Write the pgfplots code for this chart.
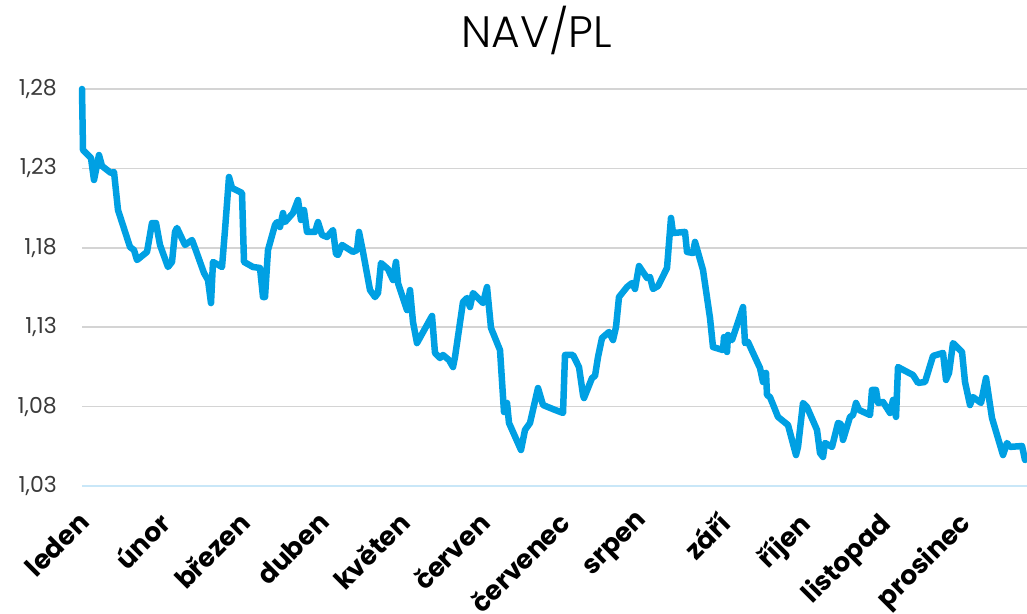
\documentclass[border=0pt]{standalone}
\usepackage{fontspec}
\setmainfont{Poppins}[UprightFont=* Light, BoldFont=* Bold]
\newfontfamily\popbold{Poppins Bold}
\newfontfamily\popreg{Poppins}
\usepackage{pgfplots}
\pgfplotsset{compat=1.18}
\definecolor{navblue}{HTML}{00A0E3}
\definecolor{gridgray}{HTML}{D4D4D4}
\definecolor{baseblue}{HTML}{C9E7F8}
\definecolor{ticktext}{HTML}{3A3A3A}
\begin{document}
\begin{tikzpicture}
\path[use as bounding box] (0,0) rectangle (1027bp,614bp);
\begin{axis}[
  at={(82bp,128bp)}, anchor=south west,
  scale only axis, width=945bp, height=397bp,
  xmin=0, xmax=945, ymin=1.03, ymax=1.28,
  clip=false,
  axis line style={draw=none},
  major tick length=0pt,
  ytick={1.08,1.13,1.18,1.23,1.28},
  extra y ticks={1.03},
  extra y tick style={grid style={draw=baseblue, line width=1.6bp}},
  ymajorgrids,
  grid style={draw=gridgray, line width=1.6bp},
  /pgf/number format/assume math mode=true,
  /pgf/number format/.cd, use comma, fixed, fixed zerofill, precision=2, /pgfplots/.cd,
  yticklabel style={font=\popreg\fontsize{22bp}{25bp}\selectfont, text=ticktext, anchor=east, inner sep=0pt, xshift=-25bp},
  xtick={0,80,160,240,320,400,480,560,640,720,800,880},
  xticklabels={leden,únor,březen,duben,květen,červen,červenec,srpen,září,říjen,listopad,prosinec},
  xticklabel style={font=\popbold\fontsize{26.5bp}{30bp}\selectfont, text=black, anchor=north east, inner sep=0pt, xshift=-5bp, yshift=-24bp, rotate=45},
  title={NAV/PL},
  title style={at={(axis description cs:0.4815,1)}, anchor=base, yshift=36bp, font=\fontsize{44bp}{50bp}\selectfont, text=black, inner sep=0pt},
]
\addplot[navblue, line width=6.5bp, line join=round, line cap=round] coordinates {
(0,1.2800) (1,1.2416) (9,1.2365) (12,1.2227) (17,1.2384) (20,1.2315) (29,1.2271) (32,1.2277)
(36,1.2038) (48,1.1805) (52,1.1786) (55,1.1723) (65,1.1774) (70,1.1956) (74,1.1956) (78,1.1818)
(86,1.1679) (90,1.1711) (93,1.1900) (95,1.1925) (103,1.1818) (110,1.1849) (113,1.1799) (122,1.1641)
(126,1.1597) (129,1.1452) (131,1.1711) (140,1.1679) (143,1.1912) (147,1.2246) (150,1.2177) (160,1.2145)
(162,1.1711) (171,1.1679) (178,1.1673) (181,1.1490) (183,1.1490) (186,1.1786) (193,1.1944) (195,1.1962)
(198,1.1931) (201,1.2019) (203,1.1962) (211,1.2019) (216,1.2101) (219,1.1975) (222,1.2038) (225,1.1900)
(233,1.1900) (236,1.1962) (240,1.1881) (245,1.1868) (251,1.1912) (254,1.1761) (256,1.1755) (260,1.1818)
(271,1.1774) (275,1.1786) (277,1.1900) (281,1.1774) (288,1.1534) (293,1.1490) (296,1.1515) (299,1.1704)
(306,1.1666) (311,1.1597) (314,1.1711) (316,1.1578) (325,1.1408) (328,1.1534) (331,1.1333) (335,1.1200)
(350,1.1371) (353,1.1138) (358,1.1106) (361,1.1125) (367,1.1093) (371,1.1049) (373,1.1112) (381,1.1459)
(385,1.1484) (388,1.1427) (391,1.1515) (401,1.1452) (405,1.1553) (409,1.1295) (418,1.1156) (422,1.0766)
(425,1.0823) (427,1.0697) (439,1.0527) (443,1.0653) (448,1.0697) (456,1.0917) (461,1.0810) (473,1.0779)
(481,1.0760) (483,1.1125) (491,1.1125) (497,1.1049) (501,1.0873) (502,1.0854) (510,1.0980) (513,1.0993)
(516,1.1112) (520,1.1232) (527,1.1270) (531,1.1219) (534,1.1301) (537,1.1490) (545,1.1553) (550,1.1578)
(553,1.1541) (557,1.1685) (565,1.1610) (568,1.1616) (571,1.1541) (576,1.1559) (585,1.1673) (589,1.1988)
(591,1.1893) (603,1.1900) (605,1.1774) (611,1.1767) (613,1.1837) (621,1.1660) (628,1.1358) (631,1.1175)
(641,1.1156) (642,1.1238) (645,1.1144) (646,1.1251) (650,1.1219) (661,1.1427) (663,1.1200) (666,1.1207)
(671,1.1138) (678,1.1043) (681,1.0955) (684,1.1012) (685,1.0873) (688,1.0860) (696,1.0735) (706,1.0684)
(714,1.0495) (716,1.0546) (721,1.0823) (725,1.0797) (735,1.0653) (738,1.0508) (741,1.0483) (743,1.0571)
(750,1.0546) (756,1.0697) (759,1.0690) (761,1.0590) (768,1.0735) (771,1.0747) (774,1.0823) (777,1.0779)
(788,1.0747) (790,1.0905) (794,1.0905) (796,1.0823) (801,1.0829) (808,1.0760) (811,1.0842) (814,1.0735)
(816,1.1049) (827,1.1012) (831,1.0999) (836,1.0949) (843,1.0955) (851,1.1119) (861,1.1138) (864,1.0968)
(867,1.1012) (871,1.1200) (880,1.1144) (883,1.0955) (888,1.0810) (891,1.0860) (899,1.0823) (904,1.0980)
(910,1.0728) (921,1.0495) (925,1.0571) (928,1.0546) (940,1.0552) (943,1.0464)
};
\end{axis}
\end{tikzpicture}
\end{document}
